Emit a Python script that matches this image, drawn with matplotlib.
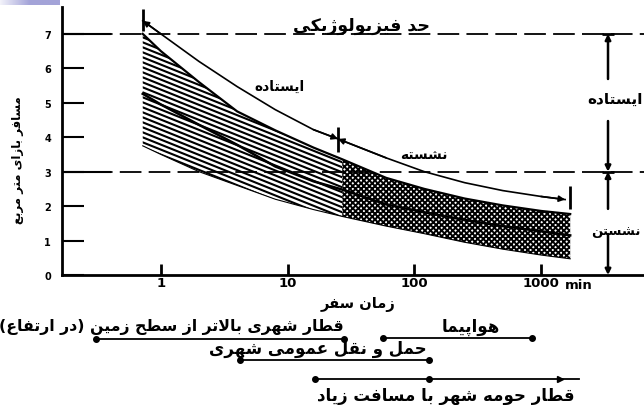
import numpy as np
import matplotlib
matplotlib.use('Agg')
import matplotlib.pyplot as plt
from matplotlib.ticker import NullLocator

# ---- values: travel time (min) vs passengers per m2 ----
t_band = [0.72, 1, 2, 4, 8, 16, 27, 60, 120, 250, 500, 1000, 1700]
band_top = [7.0, 6.5, 5.6, 4.75, 4.2, 3.7, 3.36, 2.82, 2.5, 2.22, 2.02, 1.86, 1.77]
band_mid = [5.26, 4.95, 4.36, 3.78, 3.15, 2.72, 2.48, 2.05, 1.82, 1.6, 1.42, 1.27, 1.15]
band_bot = [3.75, 3.5, 3.0, 2.6, 2.2, 1.9, 1.7, 1.42, 1.2, 0.95, 0.75, 0.58, 0.47]
split = 6  # hatched lines up to t_band[split], dotted after

t_limit = [0.72, 1, 2, 4, 8, 16, 25, 60, 120, 250, 500, 1000, 1550]
limit = [7.38, 7.0, 6.2, 5.47, 4.8, 4.22, 3.95, 3.40, 3.0, 2.68, 2.45, 2.28, 2.19]
t_bars = [0.72, 25, 1700]
bar_lo = [7.07, 3.57, 1.92]
bar_hi = [7.73, 4.30, 2.58]

physio_limit = 7
seated_limit = 3
y_ticks = [0, 1, 2, 3, 4, 5, 6, 7]
x_ticks = [1, 10, 100, 1000]
x_ticklabels = ['1', '10', '100', '1000']

# travel modes along the time axis
elev_range = [0.31, 28]
plane_range = [57, 850]
public_range = [4.2, 130]
commuter_pts = [16.4, 130]
commuter_range = [16.4, 2000]
commuter_arrow = 1400

# ---- minimal Persian shaping (matplotlib draws no joined / RTL text) ----
FORMS = {
    'ا': (0xFE8D, 0xFE8E), 'آ': (0xFE81, 0xFE82),
    'د': (0xFEA9, 0xFEAA), 'ذ': (0xFEAB, 0xFEAC),
    'ر': (0xFEAD, 0xFEAE), 'ز': (0xFEAF, 0xFEB0),
    'ژ': (0xFB8A, 0xFB8B), 'و': (0xFEED, 0xFEEE),
    'ب': (0xFE8F, 0xFE90, 0xFE91, 0xFE92), 'پ': (0xFB56, 0xFB57, 0xFB58, 0xFB59),
    'ت': (0xFE95, 0xFE96, 0xFE97, 0xFE98), 'ث': (0xFE99, 0xFE9A, 0xFE9B, 0xFE9C),
    'ج': (0xFE9D, 0xFE9E, 0xFE9F, 0xFEA0), 'چ': (0xFB7A, 0xFB7B, 0xFB7C, 0xFB7D),
    'ح': (0xFEA1, 0xFEA2, 0xFEA3, 0xFEA4), 'خ': (0xFEA5, 0xFEA6, 0xFEA7, 0xFEA8),
    'س': (0xFEB1, 0xFEB2, 0xFEB3, 0xFEB4), 'ش': (0xFEB5, 0xFEB6, 0xFEB7, 0xFEB8),
    'ص': (0xFEB9, 0xFEBA, 0xFEBB, 0xFEBC), 'ض': (0xFEBD, 0xFEBE, 0xFEBF, 0xFEC0),
    'ط': (0xFEC1, 0xFEC2, 0xFEC3, 0xFEC4), 'ظ': (0xFEC5, 0xFEC6, 0xFEC7, 0xFEC8),
    'ع': (0xFEC9, 0xFECA, 0xFECB, 0xFECC), 'غ': (0xFECD, 0xFECE, 0xFECF, 0xFED0),
    'ف': (0xFED1, 0xFED2, 0xFED3, 0xFED4), 'ق': (0xFED5, 0xFED6, 0xFED7, 0xFED8),
    'ک': (0xFB8E, 0xFB8F, 0xFB90, 0xFB91), 'گ': (0xFB92, 0xFB93, 0xFB94, 0xFB95),
    'ل': (0xFEDD, 0xFEDE, 0xFEDF, 0xFEE0), 'م': (0xFEE1, 0xFEE2, 0xFEE3, 0xFEE4),
    'ن': (0xFEE5, 0xFEE6, 0xFEE7, 0xFEE8), 'ه': (0xFEE9, 0xFEEA, 0xFEEB, 0xFEEC),
    'ی': (0xFBFC, 0xFBFD, 0xFBFE, 0xFBFF),
}
LAM_ALEF = (0xFEFB, 0xFEFC)


def joins_next(c):
    return c in FORMS and len(FORMS[c]) == 4


def fa(text):
    out = []
    i, n = 0, len(text)
    while i < n:
        c = text[i]
        if c not in FORMS:
            out.append(c)
            i += 1
            continue
        link_prev = i > 0 and joins_next(text[i - 1])
        if c == 'ل' and i + 1 < n and text[i + 1] == 'ا':
            out.append(chr(LAM_ALEF[1] if link_prev else LAM_ALEF[0]))
            i += 2
            continue
        nxt = text[i + 1] if i + 1 < n else ''
        link_next = joins_next(c) and nxt in FORMS
        f = FORMS[c]
        if link_prev and link_next:
            g = f[3]
        elif link_prev:
            g = f[1]
        elif link_next:
            g = f[2]
        else:
            g = f[0]
        out.append(chr(g))
        i += 1
    mirror = {'(': ')', ')': '('}
    return ''.join(mirror.get(ch, ch) for ch in reversed(out))


FA = dict(family='DejaVu Sans', fontweight='bold')
NUM = dict(family='DejaVu Sans', fontweight='bold')

fig = plt.figure(figsize=(6.44, 4.06), dpi=100)

# slide decoration at the top left
deco = fig.add_axes([0, 1 - 6 / 406, 59 / 644, 6 / 406])
grad = np.concatenate([np.linspace(0, 1, 30), np.ones(29)])[None, :]
deco.imshow(grad, aspect='auto', cmap=matplotlib.colors.LinearSegmentedColormap.from_list(
    'lav', ['#f2f2fa', '#a3a3d8']), vmin=0, vmax=1)
deco.axis('off')

ax = fig.add_axes([62 / 644, 1 - 276 / 406, 582 / 644, 268 / 406])
ax.set_xscale('log')
ax.set_xlim(0.166, 6500)
ax.set_ylim(0, 7.78)

# band, left part: shallow hatch lines clipped to the band
left = ax.fill_between(t_band[:split + 1], band_bot[:split + 1], band_top[:split + 1],
                       facecolor='white', linewidth=0)
clip = left.get_paths()[0]
u = np.array([0.0, 1.0])
for c in np.arange(0.0, 2.0, 5 / 268):
    ln, = ax.plot(u, c - 0.87 * u, transform=ax.transAxes, color='black', lw=1.5)
    ln.set_clip_path(clip, left.get_transform())

# band, right part: dense cross pattern
plt.rcParams['hatch.linewidth'] = 1.4
ax.fill_between(t_band[split:], band_bot[split:], band_top[split:],
                facecolor='white', edgecolor='black', hatch='xxxxxx', linewidth=0)
ax.plot(t_band, band_top, color='black', lw=1.6)
ax.plot(t_band, band_bot, color='black', lw=0.8)
ax.plot(t_band, band_mid, color='black', lw=1.8)

# upper line: standing / seated limit with range bars
ax.plot(t_limit, limit, color='black', lw=1.2)
ax.vlines(t_bars, bar_lo, bar_hi, color='black', lw=2)
arrow = dict(arrowstyle='-|>', color='black', lw=1.2, mutation_scale=9, shrinkA=0, shrinkB=0)
for a, b in [(1, 0), (5, 6), (7, 6), (11, 12)]:
    ax.annotate('', xy=(t_limit[b], limit[b]), xytext=(t_limit[a], limit[a]), arrowprops=arrow)

# dashed limits
for lvl in (physio_limit, seated_limit):
    ax.axhline(lvl, color='black', lw=1.3, ls=(0, (12, 4)))
    ax.plot([0.166, 0.4], [lvl, lvl], color='black', lw=1.5)

ax.text(38.6, 7.26, fa('حد فیزیولوژیکی'), fontsize=12.5, ha='center', va='center', **FA)
ax.text(8.7, 5.49, fa('ایستاده'), fontsize=10, ha='center', va='center', **FA)
ax.text(119, 3.51, fa('نشسته'), fontsize=10, ha='center', va='center', **FA)

# right-hand ranges
t_side = 3380
side_arrow = dict(arrowstyle='-|>', color='black', lw=1.8, mutation_scale=8, shrinkA=0, shrinkB=0)
for tip, tail in [(physio_limit, 5.69), (seated_limit, 4.47), (seated_limit, 1.92), (0, 1.19)]:
    ax.annotate('', xy=(t_side, tip), xytext=(t_side, tail), arrowprops=side_arrow)
ax.plot([t_side, t_side], [physio_limit, seated_limit], ls='none', marker='_',
        ms=8, mew=2, color='black')
ax.text(3850, 5.14, fa('ایستاده'), fontsize=11, ha='center', va='center', **FA)
ax.text(3900, 1.3, fa('نشستن'), fontsize=9.5, ha='center', va='center', **FA)

# axes styling
for side in ('top', 'right'):
    ax.spines[side].set_visible(False)
for side in ('left', 'bottom'):
    ax.spines[side].set_linewidth(2)
ax.set_yticks(y_ticks)
ax.set_yticklabels([str(v) for v in y_ticks], fontsize=7, **NUM)
ax.set_xticks(x_ticks)
ax.set_xticklabels(x_ticklabels, fontsize=9.5, **NUM)
ax.xaxis.set_minor_locator(NullLocator())
ax.tick_params(axis='y', direction='in', length=16, width=1.5, pad=8)
ax.tick_params(axis='x', direction='in', length=8, width=2, pad=1)
ax.annotate('min', xy=(1000, 0), xytext=(17, -2), textcoords='offset points',
            fontsize=9.5, ha='left', va='top', **NUM)

ax.set_xlabel(fa('زمان سفر'), fontsize=10.5, **FA)
ax.xaxis.set_label_coords(0.509, -0.078)
fig.text(18 / 644, 1 - 160 / 406, fa('مسافر بازای متر مربع'), rotation=90,
         fontsize=8.5, ha='center', va='center', **FA)

# travel modes below the axis
ax2 = fig.add_axes([62 / 644, 0, 582 / 644, 130 / 406], sharex=ax)
ax2.set_ylim(130, 0)
ax2.axis('off')
ax2.plot(elev_range, [64, 64], color='black', lw=1.3, marker='o', ms=4)
ax2.text(elev_range[1], 51, fa('قطار شهری بالاتر از سطح زمین (در ارتفاع)'), fontsize=11.3,
         ha='right', va='center', **FA)
ax2.plot(plane_range, [63, 63], color='black', lw=1.3, marker='o', ms=4)
ax2.text(280, 51, fa('هواپیما'), fontsize=12, ha='center', va='center', **FA)
ax2.plot(public_range, [85, 85], color='black', lw=1.3, marker='o', ms=4)
ax2.text(17.3, 73, fa('حمل و نقل عمومی شهری'), fontsize=12, ha='center', va='center', **FA)
ax2.plot(commuter_range, [104, 104], color='black', lw=1.3)
ax2.plot(commuter_pts, [104, 104], ls='none', color='black', marker='o', ms=4)
ax2.plot([commuter_arrow], [104], ls='none', color='black', marker='>', ms=5)
ax2.text(177, 120, fa('قطار حومه شهر با مسافت زیاد'), fontsize=12, ha='center', va='center', **FA)

fig.savefig('out.png', dpi=100)
